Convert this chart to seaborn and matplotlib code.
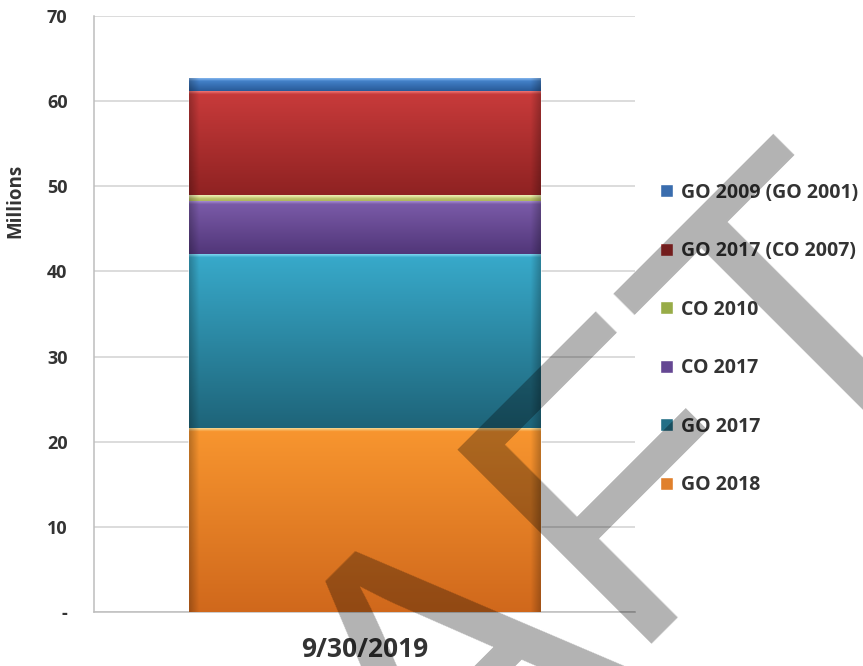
import numpy as np
import pandas as pd
import matplotlib
matplotlib.use("Agg")
import matplotlib.pyplot as plt
import seaborn as sns
from matplotlib.colors import to_rgb

# ---- data (millions) ----
period = ["9/30/2019"]
series = ["GO 2018", "GO 2017", "CO 2017", "CO 2010",
          "GO 2017 (CO 2007)", "GO 2009 (GO 2001)"]
amounts = [21.6, 20.4, 6.2, 0.8, 12.2, 1.5]
y_ticks = [0, 10, 20, 30, 40, 50, 60, 70]
y_tick_labels = ["-", "10", "20", "30", "40", "50", "60", "70"]

# flat colour (legend swatch), gradient top, gradient bottom for each series
base_colors = ["#E0802C", "#236F86", "#654793", "#98AC48", "#A52A2A", "#3A6DAE"]
top_colors = ["#F8962F", "#38AACB", "#7C5CAA", "#D9DB88", "#C93B3B", "#4A8BD6"]
bottom_colors = ["#D0681C", "#1E6479", "#513679", "#A3AE52", "#8F2222", "#285A98"]
highlight_colors = ["#F6D58E", "#7BD3EE", "#A58BCF", "#EEF0B8", "#EC7474", "#86B6EC"]

sns.set_style("white")
plt.rcParams["font.family"] = ["Open Sans", "DejaVu Sans"]
text_color = "#333333"

df = pd.DataFrame({
    "period": period * len(series),
    "series": series,
    "amount": amounts,
})
df["top"] = df["amount"].cumsum()
df["bottom"] = df["top"] - df["amount"]

fig = plt.figure(figsize=(8.63, 6.66), dpi=100)
ax = fig.add_axes([94 / 863, 1 - 612 / 666, 541 / 863, 596 / 666])

# stacked bar: draw cumulative totals from the tallest down
drawn = []
for i in reversed(range(len(series))):
    sub = df.iloc[[i]]
    sns.barplot(data=sub, x="period", y="top", color=base_colors[i],
                saturation=1, width=0.65, errorbar=None, ax=ax, zorder=2)
    drawn.append(i)

patches = list(ax.patches)


def shade_segment(patch, lower, upper, top_hex, bot_hex, hi_hex):
    x0 = patch.get_x()
    x1 = x0 + patch.get_width()
    n, m = 240, 120
    ys = np.linspace(lower, upper, n)
    t = (ys - lower) / max(upper - lower, 1e-9)
    top = np.array(to_rgb(top_hex))
    bot = np.array(to_rgb(bot_hex))
    hi = np.array(to_rgb(hi_hex))
    col = bot[None, :] + (top - bot)[None, :] * t[:, None]
    # thin bright band along the upper edge of the segment
    band = np.clip((ys - (upper - 0.35)) / 0.35, 0, 1)[:, None]
    col = col * (1 - band) + hi[None, :] * band
    w = np.linspace(0, 1, m)
    edge = 1 - 0.22 * np.clip(1 - np.minimum(w, 1 - w) / 0.025, 0, 1)
    img = col[:, None, :] * edge[None, :, None]
    ax.imshow(np.clip(img, 0, 1), extent=[x0, x1, lower, upper],
              origin="lower", aspect="auto", interpolation="bilinear",
              zorder=3)


for patch, i in zip(patches, drawn):
    shade_segment(patch, df["bottom"].iloc[i], df["top"].iloc[i],
                  top_colors[i], bottom_colors[i], highlight_colors[i])

ax.set_xlim(-0.5, 0.5)
ax.set_ylim(0, 70)
ax.set_yticks(y_ticks)
ax.set_yticklabels(y_tick_labels)
ax.set_axisbelow(True)
ax.yaxis.grid(True, color="#d2d2d2", linewidth=1.1)
ax.xaxis.grid(False)

for side in ["top", "right"]:
    ax.spines[side].set_visible(False)
for side in ["left", "bottom"]:
    ax.spines[side].set_color("#bdbdbd")
    ax.spines[side].set_linewidth(1.1)

ax.tick_params(axis="y", length=4, width=1, color="#bdbdbd", pad=15,
               labelsize=13, labelcolor=text_color)
ax.tick_params(axis="x", length=0, pad=17, labelsize=19, labelcolor=text_color)
for lab in ax.get_yticklabels() + ax.get_xticklabels():
    lab.set_fontweight("bold")

ax.set_xlabel("")
ax.set_ylabel("Millions", fontsize=13.5, fontweight="bold", color=text_color)
ax.yaxis.set_label_coords(-0.126, 0.689)

leg = ax.legend(handles=patches, labels=[series[i] for i in drawn],
                loc="center left", bbox_to_anchor=(660 / 863, 1 - 339 / 666),
                bbox_transform=fig.transFigure, frameon=False,
                borderpad=0, borderaxespad=0, handlelength=0.65,
                handleheight=0.65, handletextpad=0.45, labelspacing=1.98,
                prop={"family": "Open Sans", "weight": "bold", "size": 14})
for txt in leg.get_texts():
    txt.set_color(text_color)

# diagonal watermark across the figure
fig.text(0.025, -0.8616, "DRAFT", rotation=45, rotation_mode="anchor",
         ha="left", va="baseline", fontsize=288, family="Liberation Sans",
         color="black", alpha=0.3, zorder=20)

fig.savefig("out.png", dpi=100, facecolor="white")
